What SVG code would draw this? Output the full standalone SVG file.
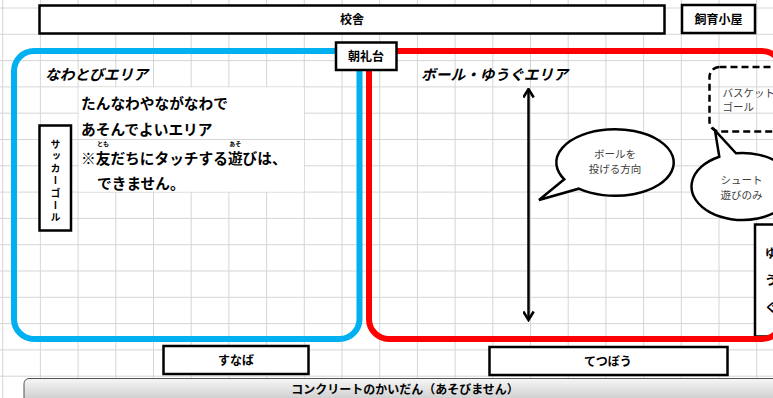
<svg xmlns="http://www.w3.org/2000/svg" width="773" height="398" viewBox="0 0 773 398">
<defs>
<style>
.t{font-family:"Noto Sans CJK JP","Noto Sans",sans-serif;}
.lbl{font-family:"Noto Sans CJK JP",sans-serif;font-weight:bold;font-size:12px;fill:#000;text-anchor:middle;}
.box{fill:#fff;stroke:#000;stroke-width:2.5;}
.gray{font-family:"Noto Sans CJK JP",sans-serif;font-size:10.5px;fill:#404040;}
.big{font-family:"Noto Sans CJK JP",sans-serif;font-weight:bold;font-size:14.7px;fill:#000;}
.ttl{font-family:"Noto Sans CJK JP",sans-serif;font-weight:bold;font-style:italic;font-size:14.7px;fill:#000;}
.ruby{font-family:"Noto Sans CJK JP",sans-serif;font-weight:bold;font-size:6px;fill:#000;text-anchor:middle;}
.bubble{fill:#fff;stroke:#000;stroke-width:2.5;stroke-linejoin:miter;}
</style>
<linearGradient id="stair" x1="0" y1="0" x2="0" y2="1">
<stop offset="0" stop-color="#f7f7f7"/>
<stop offset="1" stop-color="#bdbdbd"/>
</linearGradient>
<marker id="chev" viewBox="0 0 12 12" refX="10.5" refY="6" markerWidth="12" markerHeight="12" markerUnits="userSpaceOnUse" orient="auto-start-reverse">
<path d="M2,0.8 L10.5,6 L2,11.2" fill="none" stroke="#000" stroke-width="2.5"/>
</marker>
</defs>
<rect width="773" height="398" fill="#fff"/>
<g id="grid" stroke="#d6d6d6" stroke-width="1" fill="none">
<path d="M2.7,0V398M40.4,0V398M78.1,0V398M115.8,0V398M153.5,0V398M191.2,0V398M228.9,0V398M266.6,0V398M304.3,0V398M342,0V398M379.7,0V398M417.4,0V398M455.1,0V398M492.8,0V398M530.5,0V398M568.2,0V398M605.9,0V398M643.6,0V398M681.3,0V398M719,0V398M756.7,0V398"/>
<path d="M0,8H773M0,34.3H773M0,60.6H773M0,86.9H773M0,113.2H773M0,139.5H773M0,165.8H773M0,192.1H773M0,218.4H773M0,244.7H773M0,271H773M0,297.3H773M0,323.6H773M0,349.9H773M0,376.2H773"/>
</g>
<g id="notice">
<rect x="78.6" y="87.4" width="225.2" height="104.2" fill="#fff"/>
<line x1="78.1" y1="139.5" x2="304.3" y2="139.5" stroke="#d6d6d6" stroke-width="1"/>
<text class="big" x="81" y="109">たんなわやながなわで</text>
<text class="big" x="81" y="135">あそんでよいエリア</text>
<text class="big" x="81" y="163.5">※友だちにタッチする遊びは、</text>
<text class="ruby" x="103" y="146">とも</text>
<text class="ruby" x="235.3" y="146">あそ</text>
<text class="big" x="97" y="189">できません。</text>
</g>
<g id="nawatobi-area">
<rect x="14" y="51" width="345.5" height="288" rx="20" fill="none" stroke="#00b0f0" stroke-width="6"/>
<text class="ttl" x="45" y="80">なわとびエリア</text>
</g>
<g id="yugu">
<rect x="755" y="224.5" width="40" height="112" class="box" stroke-width="3"/>
<text class="lbl" x="771" y="258">ゆ</text>
<text class="lbl" x="771" y="285">う</text>
<text class="lbl" x="771" y="312">ぐ</text>
</g>
<g id="ball-area">
<rect x="369" y="51" width="413" height="288" rx="20" fill="none" stroke="#ff0000" stroke-width="6"/>
<text class="ttl" x="421" y="80">ボール・ゆうぐエリア</text>
</g>
<g id="kosha">
<rect x="39.5" y="5.5" width="625" height="28" class="box"/>
<text class="lbl" x="352" y="24">校舎</text>
</g>
<g id="shiiku">
<rect x="682" y="5" width="73" height="28" class="box"/>
<text class="lbl" x="718.5" y="24">飼育小屋</text>
</g>
<g id="chorei">
<rect x="336" y="42.5" width="60.5" height="27.5" class="box"/>
<text class="lbl" x="366" y="61">朝礼台</text>
</g>
<g id="soccer">
<rect x="39.5" y="125.5" width="31.5" height="105" class="box"/>
<text class="t" x="55.5" y="139" style="writing-mode:vertical-rl;font-weight:bold;font-size:10px;letter-spacing:2.2px;" fill="#000">サッカーゴール</text>
</g>
<g id="basket">
<rect x="709.5" y="67" width="80" height="64.5" rx="10" fill="none" stroke="#000" stroke-width="2.5" stroke-dasharray="7,4"/>
<text class="gray" x="722.5" y="97">バスケット</text>
<text class="gray" x="722.5" y="111">ゴール</text>
</g>
<g id="bubble-throw">
<path class="bubble" d="M564.3,179.3 L539,200 L578.7,188.7 A58.7,33.3 0 1 0 564.3,179.3 Z"/>
<text class="gray" x="615" y="158" text-anchor="middle">ボールを</text>
<text class="gray" x="615" y="173" text-anchor="middle">投げる方向</text>
</g>
<g id="bubble-shoot">
<path class="bubble" d="M719.3,156.7 L715,130.5 L736,153.3 A51,33.5 0 1 1 719.3,156.7 Z"/>
<text class="gray" x="720.5" y="183.5">シュート</text>
<text class="gray" x="720.5" y="198.5">遊びのみ</text>
</g>
<g id="sunaba">
<rect x="163.5" y="346" width="145" height="28" class="box"/>
<text class="lbl" x="236" y="364.5">すなば</text>
</g>
<g id="tetsubo">
<rect x="489.5" y="347" width="238" height="28" class="box"/>
<text class="lbl" x="608" y="365.5">てつぼう</text>
</g>
<g id="stairs">
<rect x="24" y="378.5" width="800" height="30" rx="5" fill="url(#stair)" stroke="#555" stroke-width="1"/>
<text class="lbl" x="405" y="394" font-size="11.2px">コンクリートのかいだん（あそびません）</text>
</g>
<g id="connectors">
<line x1="528.5" y1="89" x2="528.5" y2="320" stroke="#000" stroke-width="2.5" marker-start="url(#chev)" marker-end="url(#chev)"/>
</g>
</svg>
